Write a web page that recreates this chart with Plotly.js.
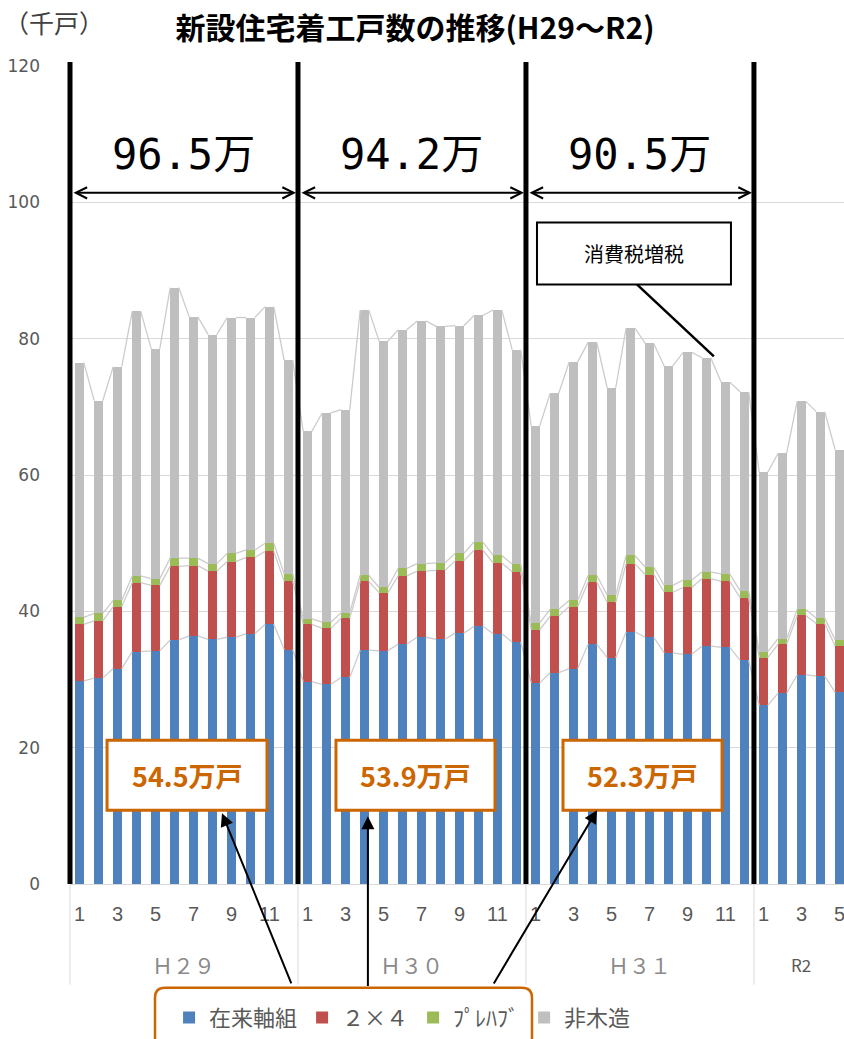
<!DOCTYPE html>
<html>
<head>
<meta charset="utf-8">
<script src="https://cdn.plot.ly/plotly-3.0.1.min.js"></script>
<style>
  html, body { margin: 0; padding: 0; background: #fff; }
  #chart { width: 844px; height: 1039px; }
</style>
</head>
<body>
<div id="chart"></div>
<script>
// ---- data (千戸) ----
const yearLabels = ['Ｈ２９', 'Ｈ３０', 'Ｈ３１', 'R2'];
const yearMonthCounts = [12, 12, 12, 5];
const monthLabels = [1,2,3,4,5,6,7,8,9,10,11,12,
                     1,2,3,4,5,6,7,8,9,10,11,12,
                     1,2,3,4,5,6,7,8,9,10,11,12,
                     1,2,3,4,5];
const seriesNames = ['在来軸組', '２×４', 'ﾌﾟﾚﾊﾌﾞ', '非木造'];
const zairai = [29.8,30.2,31.6,34.1,34.2,35.8,36.4,35.9,36.2,36.7,38.1,34.4,
                29.7,29.3,30.3,34.3,34.2,35.2,36.2,35.9,36.8,37.8,36.7,35.5,
                29.5,31.0,31.6,35.2,33.2,37.0,36.2,33.9,33.7,34.9,34.7,32.8,
                26.2,28.0,30.7,30.5,28.1];
const twoByFour = [8.3,8.4,9.1,10.1,9.6,10.8,10.3,10.0,11.1,11.2,10.7,10.0,
                   8.4,8.2,8.7,10.1,8.5,10.0,9.7,10.1,10.6,11.2,10.4,10.3,
                   7.8,8.3,9.1,9.1,8.1,10.0,9.2,8.9,9.8,9.9,9.7,9.2,
                   7.0,7.2,8.7,7.7,6.8];
const prefab = [1.0,1.1,0.9,1.0,1.0,1.2,1.1,1.1,1.2,1.1,1.2,1.1,
                0.8,0.9,0.8,0.9,0.8,1.1,1.1,1.1,1.1,1.2,1.1,1.1,
                1.0,1.0,0.9,1.0,1.1,1.2,1.1,1.0,1.1,1.0,1.1,1.0,
                0.9,0.8,0.9,0.8,0.9];
const hiMokuzo = [37.4,31.2,34.3,38.8,33.7,39.7,35.4,33.6,34.6,34.1,34.7,31.3,
                  27.5,30.7,29.8,38.9,36.1,35.0,35.6,34.7,33.4,33.2,36.0,31.5,
                  28.9,31.7,35.0,34.2,30.4,33.4,32.8,32.2,33.4,31.4,28.1,29.2,
                  26.3,27.2,30.5,30.3,27.9];
const yearTotalLabels = ['96.5万', '94.2万', '90.5万'];
const woodTotalLabels = ['54.5万戸', '53.9万戸', '52.3万戸'];
const calloutLabel = '消費税増税';
const unitLabel = '（千戸）';
const titleText = '新設住宅着工戸数の推移(H29～R2)';

// ---- build ----
const colors = ['#4F81BD', '#C0504D', '#9BBB59', '#BFBFBF'];
const series = [zairai, twoByFour, prefab, hiMokuzo];
const n = monthLabels.length;
const xIdx = monthLabels.map((_, i) => i);
const barWidth = 0.45;
const xRange = [-0.5, 40.24];
const toPaperX = v => (v - xRange[0]) / (xRange[1] - xRange[0]);

const traces = series.map((vals, k) => ({
  type: 'bar', name: seriesNames[k], x: xIdx, y: vals,
  width: barWidth,
  marker: { color: colors[k], line: { width: 0 } },
  hoverinfo: 'skip'
}));

// Excel-style series lines connecting segment tops
let cum = new Array(n).fill(0);
series.forEach(vals => {
  cum = cum.map((c, i) => c + vals[i]);
  const lx = [], ly = [];
  for (let i = 0; i < n - 1; i++) {
    lx.push(i + barWidth / 2, i + 1 - barWidth / 2, null);
    ly.push(cum[i], cum[i + 1], null);
  }
  traces.push({
    type: 'scatter', mode: 'lines', x: lx, y: ly, showlegend: false,
    hoverinfo: 'skip', line: { color: '#cccccc', width: 1.3 }
  });
});

// tick labels: odd months
const tickvals = [], ticktext = [];
monthLabels.forEach((m, i) => { if (m % 2 === 1) { tickvals.push(i); ticktext.push(String(m)); } });

// year boundaries
const bounds = [-0.5];
yearMonthCounts.forEach(c => bounds.push(bounds[bounds.length - 1] + c));
const groupCenters = yearMonthCounts.map((c, k) => (bounds[k] + bounds[k + 1]) / 2);

const shapes = [];
const annotations = [];
const orange = '#cc6600';

// gray separators in the category axis area
bounds.slice(0, 4).forEach(b => {
  shapes.push({ type: 'line', xref: 'paper', yref: 'paper', x0: toPaperX(b), x1: toPaperX(b),
    y0: 0, y1: -0.123, line: { color: '#d9d9d9', width: 1 }, layer: 'below' });
});
// thick black year dividers
bounds.slice(0, 4).forEach(b => {
  shapes.push({ type: 'line', xref: 'paper', yref: 'paper', x0: toPaperX(b), x1: toPaperX(b),
    y0: 0, y1: 1.005, line: { color: '#000', width: 5 }, layer: 'above' });
});

// year labels under axis
yearLabels.forEach((t, k) => {
  const isR = k === 3;
  annotations.push({ xref: 'x', yref: 'paper', x: groupCenters[k], y: -0.099,
    text: t, showarrow: false, yanchor: 'middle',
    font: { family: 'Noto Sans CJK JP', size: isR ? 17 : 21, color: isR ? '#595959' : '#8a8a8a' } });
});

// big yearly totals with double arrows
yearTotalLabels.forEach((t, k) => {
  annotations.push({ xref: 'x', yref: 'y', x: groupCenters[k], y: 107.0, text: t,
    showarrow: false, font: { family: 'DejaVu Sans Mono, Noto Sans CJK JP', size: 42, color: '#000' } });
  annotations.push({ xref: 'x', yref: 'y', axref: 'x', ayref: 'y',
    x: bounds[k + 1], y: 101.4, ax: bounds[k], ay: 101.4, text: '',
    showarrow: true, arrowside: 'end+start', arrowhead: 5, startarrowhead: 5,
    arrowsize: 1.1, startarrowsize: 1.1, arrowwidth: 2, arrowcolor: '#000',
    standoff: 2, startstandoff: 2 });
});

// orange wood-total boxes
const boxX = [[1.45, 9.87], [13.5, 21.87], [25.45, 33.82]];
woodTotalLabels.forEach((t, k) => {
  shapes.push({ type: 'rect', xref: 'x', yref: 'y', x0: boxX[k][0], x1: boxX[k][1],
    y0: 10.83, y1: 21.07, fillcolor: '#fff', line: { color: orange, width: 3 }, layer: 'above' });
  annotations.push({ xref: 'x', yref: 'y', x: (boxX[k][0] + boxX[k][1]) / 2, y: 15.95,
    text: '<b>' + t + '</b>', showarrow: false,
    font: { family: 'Noto Sans CJK JP', size: 27, color: orange } });
});

// arrows from legend box to the orange boxes
const arrowDefs = [
  { x: 7.5, y: 10.39, ax: 11.18, ay: -14.8 },
  { x: 15.18, y: 9.95, ax: 15.18, ay: -15.2 },
  { x: 27.24, y: 10.83, ax: 21.76, ay: -14.8 }
];
arrowDefs.forEach(a => {
  annotations.push({ xref: 'x', yref: 'y', axref: 'x', ayref: 'y', x: a.x, y: a.y, ax: a.ax, ay: a.ay,
    text: '', showarrow: true, arrowhead: 2, arrowsize: 1.3, arrowwidth: 2, arrowcolor: '#000',
    standoff: 0, startstandoff: 0 });
});

// legend box (rounded, orange)
(function () {
  const x0 = (155 - 70) / 774, x1 = (532 - 70) / 774;
  const top = -(990 - 886) / 820, bot = -(1060 - 886) / 820;
  const rx = 10 / 774, ry = 10 / 820;
  shapes.push({ type: 'path', xref: 'paper', yref: 'paper',
    path: `M${x0 + rx},${top} L${x1 - rx},${top} Q${x1},${top} ${x1},${top - ry} L${x1},${bot} L${x0},${bot} L${x0},${top - ry} Q${x0},${top} ${x0 + rx},${top} Z`,
    line: { color: orange, width: 2.5 }, fillcolor: 'rgba(0,0,0,0)' });
})();

// 消費税増税 callout
shapes.push({ type: 'line', xref: 'x', yref: 'y', x0: 29.34, y0: 87.96, x1: 33.39, y1: 77.4,
  line: { color: '#000', width: 2.5 }, layer: 'above' });
shapes.push({ type: 'rect', xref: 'x', yref: 'y', x0: 24.08, x1: 34.29, y0: 87.96, y1: 97.03,
  fillcolor: '#fff', line: { color: '#000', width: 2 }, layer: 'above' });
annotations.push({ xref: 'x', yref: 'y', x: 29.18, y: 92.5, text: calloutLabel, showarrow: false,
  font: { family: 'Noto Sans CJK JP', size: 20, color: '#000' } });

// unit label
annotations.push({ xref: 'paper', yref: 'paper', x: -68 / 774, y: 1 + (66 - 22) / 820,
  xanchor: 'left', yanchor: 'middle', text: unitLabel, showarrow: false,
  font: { family: 'Noto Sans CJK JP', size: 25, color: '#404040' } });

const layout = {
  width: 844, height: 1039,
  margin: { l: 70, r: 0, t: 66, b: 153 },
  paper_bgcolor: '#fff', plot_bgcolor: '#fff',
  font: { family: 'Noto Sans CJK JP', color: '#595959' },
  title: { text: '<b>' + titleText + '</b>', x: 415 / 844, xanchor: 'center', xref: 'container',
    y: 1 - 28 / 1039, yanchor: 'middle', yref: 'container',
    font: { family: 'Noto Sans CJK JP', size: 30, color: '#000' } },
  barmode: 'stack',
  showlegend: true,
  legend: { orientation: 'h', traceorder: 'normal', x: 0.128, xanchor: 'left', y: -0.1634, yanchor: 'middle',
    font: { family: 'Noto Sans CJK JP', size: 22, color: '#595959' }, bgcolor: 'rgba(0,0,0,0)',
    itemclick: false, itemdoubleclick: false },
  xaxis: { range: xRange, tickmode: 'array', tickvals: tickvals, ticktext: ticktext,
    showgrid: false, zeroline: false, showline: true, linecolor: '#d9d9d9', linewidth: 1,
    ticks: '', ticklabelstandoff: 12, ticklabeloverflow: 'allow',
    tickfont: { family: 'Liberation Sans Narrow, Liberation Sans', size: 20, color: '#595959' } },
  yaxis: { range: [0, 120], dtick: 20, tick0: 0, showgrid: true, gridcolor: '#d9d9d9', gridwidth: 1,
    zeroline: false, showline: false, ticks: '', ticklabelstandoff: 29,
    tickfont: { family: 'DejaVu Sans', size: 17, color: '#595959' } },
  shapes: shapes,
  annotations: annotations
};

Plotly.newPlot('chart', traces, layout, { displayModeBar: false, staticPlot: true });
</script>
</body>
</html>
